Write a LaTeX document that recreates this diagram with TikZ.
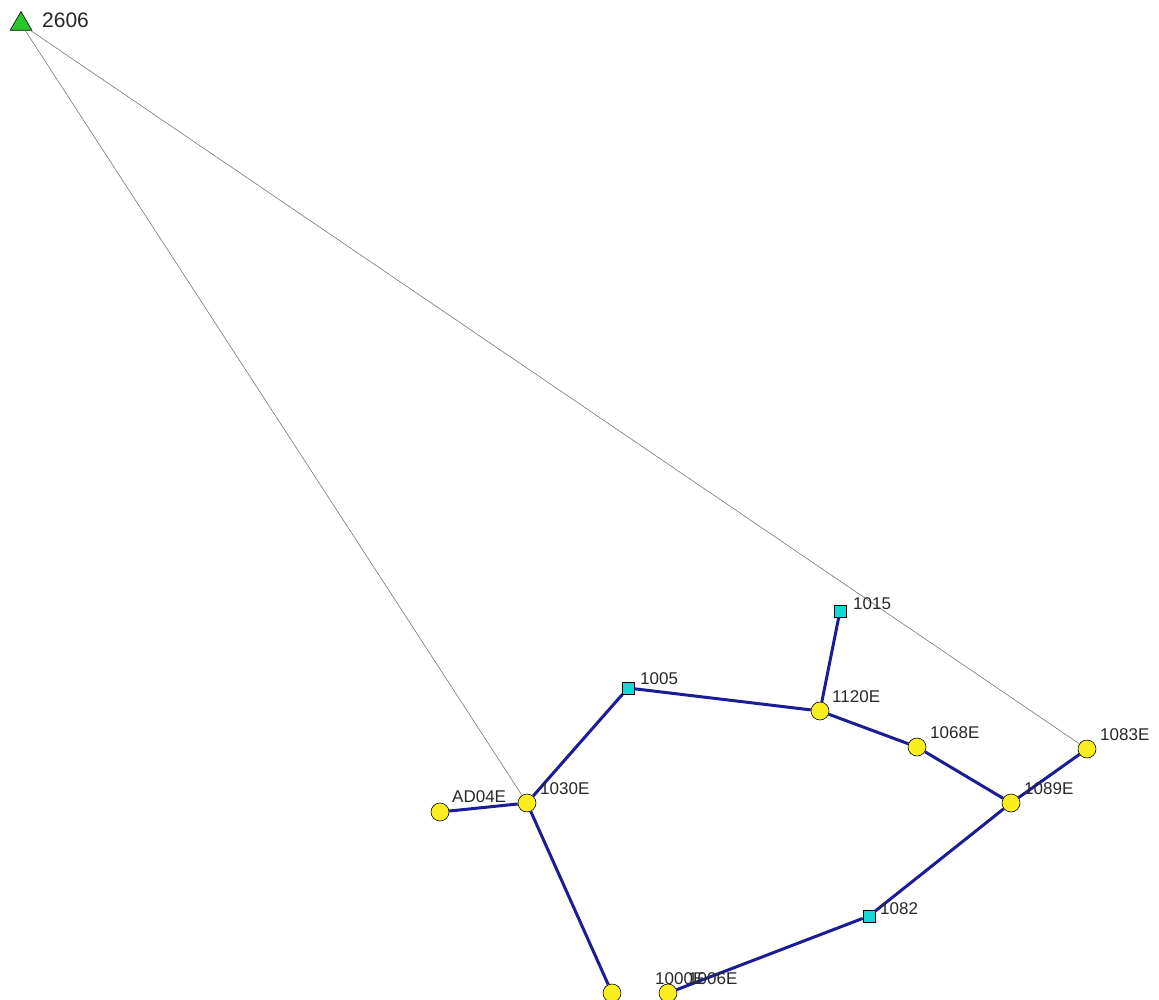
\documentclass[tikz,border=0pt]{standalone}
\usepackage{fontspec}
\setmainfont{Liberation Sans}
\usetikzlibrary{shapes.geometric}
\definecolor{pipeblue}{RGB}{28,28,150}
\definecolor{juncyellow}{RGB}{250,238,30}
\definecolor{tankcyan}{RGB}{20,215,215}
\definecolor{srcgreen}{RGB}{40,200,40}
\definecolor{linkgray}{RGB}{120,120,120}
\definecolor{lbltext}{RGB}{40,40,40}
\begin{document}
\begin{tikzpicture}[x=1pt,y=-1pt,
  junc/.style={circle, draw=black, line width=0.6pt, fill=juncyellow, minimum size=18pt, inner sep=0pt},
  tank/.style={rectangle, draw=black, line width=0.6pt, fill=tankcyan, minimum size=12pt, inner sep=0pt},
  source/.style={regular polygon, regular polygon sides=3, draw=black, line width=0.6pt, fill=srcgreen, minimum size=25pt, inner sep=0pt},
  lbl/.style={anchor=west, inner sep=0pt, text=lbltext, font=\fontsize{17}{17}\selectfont},
  biglbl/.style={anchor=west, inner sep=0pt, text=lbltext, font=\fontsize{21}{21}\selectfont},
  pipe/.style={draw=pipeblue, line width=3pt},
  link/.style={draw=linkgray, line width=0.6pt}]
\useasboundingbox (0,0) rectangle (1159,1000);
\fill[white] (0,0) rectangle (1159,1000);
% nodes
\node[source] (n2606) at (21,24) {};
\node[tank] (n1015) at (840,611) {};
\node[tank] (n1005) at (628,688) {};
\node[tank] (n1082) at (869,916) {};
\node[junc] (n1120E) at (820,711) {};
\node[junc] (n1068E) at (917,747) {};
\node[junc] (n1083E) at (1087,749) {};
\node[junc] (n1089E) at (1011,803) {};
\node[junc] (n1030E) at (527,803) {};
\node[junc] (nAD04E) at (440,812) {};
\node[junc] (n1000E) at (612,993) {};
\node[junc] (n1006E) at (668,993) {};
% links
\draw[link] (n2606) -- (n1030E);
\draw[link] (n2606) -- (n1083E);
% pipes
\draw[pipe] (nAD04E) -- (n1030E);
\draw[pipe] (n1030E) -- (n1005);
\draw[pipe] (n1030E) -- (n1000E);
\draw[pipe] (n1005) -- (n1120E);
\draw[pipe] (n1015) -- (n1120E);
\draw[pipe] (n1120E) -- (n1068E);
\draw[pipe] (n1068E) -- (n1089E);
\draw[pipe] (n1089E) -- (n1083E);
\draw[pipe] (n1089E) -- (n1082);
\draw[pipe] (n1082) -- (n1006E);
% labels
\node[biglbl] (l2606) at (42,20) {2606};
\node[lbl] (l1015) at (853,604) {1015};
\node[lbl] (l1005) at (640,679) {1005};
\node[lbl] (l1120E) at (832,697) {1120E};
\node[lbl] (l1068E) at (930,733) {1068E};
\node[lbl] (l1083E) at (1100,735) {1083E};
\node[lbl] (l1089E) at (1024,789) {1089E};
\node[lbl] (l1030E) at (540,789) {1030E};
\node[lbl] (lAD04E) at (452,797) {AD04E};
\node[lbl] (l1082) at (880,909) {1082};
\node[lbl] (l1000E) at (655,979) {1000E};
\node[lbl] (l1006E) at (688,979) {1006E};
\end{tikzpicture}
\end{document}
